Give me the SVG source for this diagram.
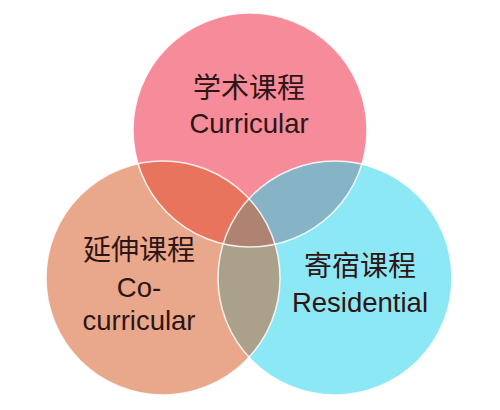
<svg xmlns="http://www.w3.org/2000/svg" width="500" height="410" viewBox="0 0 500 410">
<style>
.t{font-family:"Noto Sans CJK SC","Liberation Sans",sans-serif;font-size:28px;text-anchor:middle;fill:#2e1515}
.l{font-family:"Liberation Sans","Noto Sans CJK SC",sans-serif;font-size:27.5px;text-anchor:middle;fill:#2e1515}
.o{fill:none;stroke:#ffffff;stroke-width:1.5;stroke-opacity:0.85}
</style>
<defs>
<clipPath id="cP"><circle cx="250" cy="130" r="117"/></clipPath>
<clipPath id="cL"><circle cx="163" cy="278" r="117"/></clipPath>
<clipPath id="cR"><circle cx="335" cy="278" r="117"/></clipPath>
</defs>
<rect width="500" height="410" fill="#ffffff"/>
<g id="curricular">
<circle cx="250" cy="130" r="117" fill="#F68B9A"/>
</g>
<g id="residential">
<circle cx="335" cy="278" r="117" fill="#8DE8F6"/>
</g>
<g id="co-curricular">
<circle cx="163" cy="278" r="117" fill="#E9A88B"/>
</g>
<g id="overlaps">
<g clip-path="url(#cP)"><circle cx="163" cy="278" r="117" fill="#E8745E"/></g>
<g clip-path="url(#cP)"><circle cx="335" cy="278" r="117" fill="#87B3C6"/></g>
<g clip-path="url(#cL)"><circle cx="335" cy="278" r="117" fill="#ABA08A"/></g>
<g clip-path="url(#cP)"><g clip-path="url(#cL)"><circle cx="335" cy="278" r="117" fill="#AE8371"/></g></g>
</g>
<g id="outlines">
<circle class="o" cx="250" cy="130" r="117"/>
<circle class="o" cx="335" cy="278" r="117" stroke-opacity="0.5"/>
<circle class="o" cx="163" cy="278" r="117"/>
</g>
<g id="labels">
<text class="t" x="249" y="98">学术课程</text>
<text class="l" x="249" y="133">Curricular</text>
<text class="t" x="139" y="260">延伸课程</text>
<text class="l" x="139" y="297">Co-</text>
<text class="l" x="139" y="330">curricular</text>
<text class="t" x="360" y="276">寄宿课程</text>
<text class="l" x="360" y="312">Residential</text>
</g>
</svg>
